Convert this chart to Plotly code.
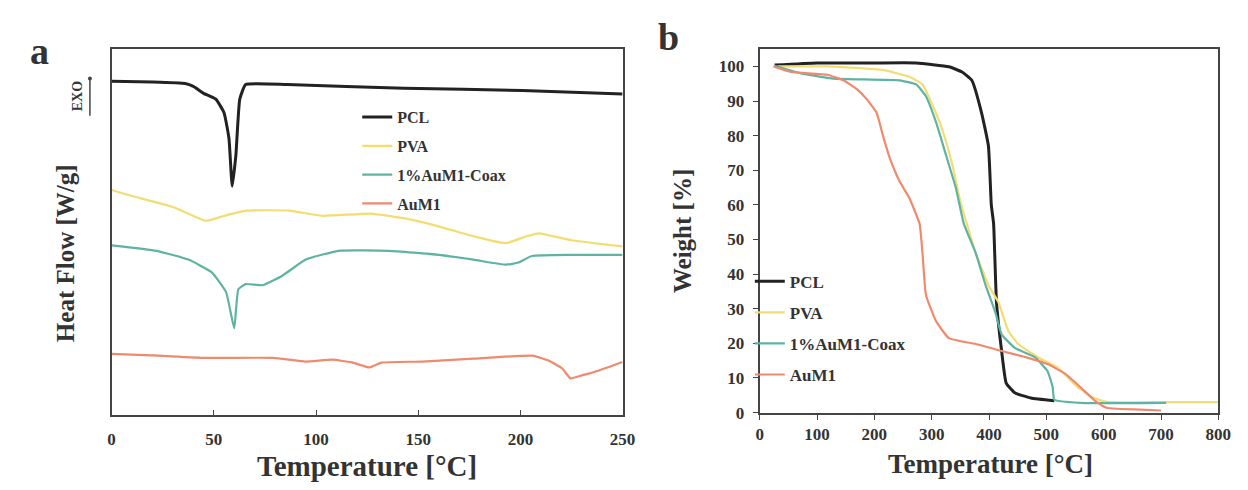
import plotly.graph_objects as go

# ---------------- DSC (panel a) ----------------
dsc_pcl_t = [0, 20, 36, 40, 45, 51, 55, 57.4, 59, 60.8, 62.7, 65.6, 86, 143, 201, 250]
dsc_pcl_v = [91.2, 91.0, 90.6, 89.8, 87.9, 86.3, 82.6, 75.6, 62.5, 71.0, 86.3, 90.3, 90.3, 89.3, 88.7, 87.7]

dsc_pva_t = [0, 2, 10, 30, 46, 54, 65.6, 87, 103, 127, 144, 160, 177, 193, 203, 209, 225, 250]
dsc_pva_v = [61.5, 61.1, 59.8, 56.8, 53.0, 54.2, 55.8, 55.8, 54.4, 55.0, 53.6, 51.5, 48.8, 46.9, 48.8, 49.6, 47.7, 46.0]

dsc_coax_t = [0, 22, 37.6, 49, 56, 60, 62, 65.6, 74, 83.5, 95, 111, 135.6, 160, 177, 193, 199, 205.6, 225, 250]
dsc_coax_v = [46.3, 44.8, 42.4, 38.9, 33.5, 23.6, 34.3, 35.7, 35.4, 38.0, 42.4, 44.8, 44.8, 43.7, 42.4, 41.0, 41.6, 43.4, 43.7, 43.7]

dsc_aum1_t = [0, 23, 46, 79, 95, 108, 118, 126, 132, 152, 177, 206, 214, 220.5, 224.5, 230, 238, 250]
dsc_aum1_v = [16.6, 16.1, 15.5, 15.5, 14.5, 15.0, 14.2, 12.9, 14.2, 14.5, 15.3, 16.1, 14.7, 12.6, 9.9, 10.7, 12.0, 14.4]

# ---------------- TGA (panel b) ----------------
tga_pcl_t = [26, 100, 200, 273, 330, 353, 370, 387, 399, 404, 408, 413, 422, 430, 445, 473, 514]
tga_pcl_w = [100.4, 101, 101, 101, 99.9, 98.4, 96.0, 86.6, 77.0, 60.0, 54.6, 32.0, 17.8, 8.5, 5.7, 4.2, 3.4]

tga_pva_t = [32, 118, 215, 261, 284, 301, 318, 336, 350, 377, 399, 416, 434, 451, 485, 520, 554, 583, 605, 700, 800]
tga_pva_w = [100, 100, 99, 97, 94.8, 89, 82, 71.6, 61, 46, 36.8, 32, 23.5, 19.8, 16, 13, 7.4, 4.2, 3.1, 3.0, 3.0]

tga_coax_t = [26, 72, 129, 244, 273, 290, 308, 325, 342, 356, 377, 394, 411, 422, 445, 480, 502, 511, 514, 559, 709]
tga_coax_w = [100.2, 98, 96.5, 96, 94.8, 91.4, 83.7, 74.4, 65, 54.6, 46, 36.8, 29, 22.6, 18.7, 16, 12, 7.4, 3.7, 2.8, 2.8]

tga_aum1_t = [24, 55, 118, 146, 170, 187, 204, 215, 227, 244, 261, 279, 284, 290, 308, 330, 377, 422, 468, 502, 532, 559, 583, 605, 674, 700]
tga_aum1_w = [100, 98.4, 97.6, 96, 93.4, 90.5, 86.6, 80, 73.5, 66.8, 62, 54.5, 46, 34, 26.3, 21.5, 19.8, 17.8, 15.8, 14, 11.3, 7.4, 3.7, 1.4, 0.8, 0.6]

series_names = ["PCL", "PVA", "1%AuM1-Coax", "AuM1"]
colors = ["#222222", "#f3dc72", "#5fb3a0", "#ee8a6e"]
widths = [3, 2.2, 2.2, 2.2]

x_ticks_a = [0, 50, 100, 150, 200, 250]
x_ticks_b = [0, 100, 200, 300, 400, 500, 600, 700, 800]
y_ticks_b = [0, 10, 20, 30, 40, 50, 60, 70, 80, 90, 100]

W, H = 1248, 490
FONT = "Liberation Serif"


def px(x):
    return x / W


def py(y):
    return 1 - y / H


fig = go.Figure()

dsc = [(dsc_pcl_t, dsc_pcl_v), (dsc_pva_t, dsc_pva_v), (dsc_coax_t, dsc_coax_v), (dsc_aum1_t, dsc_aum1_v)]
tga = [(tga_pcl_t, tga_pcl_w), (tga_pva_t, tga_pva_w), (tga_coax_t, tga_coax_w), (tga_aum1_t, tga_aum1_w)]

for i, (t, v) in enumerate(dsc):
    fig.add_trace(go.Scatter(x=t, y=v, mode="lines", name=series_names[i],
                             line=dict(color=colors[i], width=widths[i], shape="spline", smoothing=0.4),
                             xaxis="x", yaxis="y", legend="legend", legendgroup="a" + str(i)))
for i, (t, v) in enumerate(tga):
    fig.add_trace(go.Scatter(x=t, y=v, mode="lines", name=series_names[i],
                             line=dict(color=colors[i], width=widths[i], shape="spline", smoothing=0.4),
                             xaxis="x2", yaxis="y2", legend="legend2", legendgroup="b" + str(i)))

axis_common = dict(showline=True, linecolor="#444", linewidth=2, mirror=True, showgrid=False,
                   zeroline=False, tickfont=dict(family=FONT, size=17, color="#333", weight="bold"))

fig.update_layout(
    width=W, height=H, margin=dict(l=0, r=0, t=0, b=0),
    paper_bgcolor="white", plot_bgcolor="white",
    font=dict(family=FONT, color="#222"),
    xaxis=dict(domain=[px(101), px(619)], range=[0, 250], tickvals=x_ticks_a,
               ticks="inside", ticklen=5, tickcolor="#444", anchor="y", ticklabelstandoff=8,
               **axis_common),
    yaxis=dict(domain=[py(415), py(42)], range=[0, 100], showticklabels=False, ticks="",
               anchor="x", **axis_common),
    xaxis2=dict(domain=[px(758), px(1223)], range=[0, 800], tickvals=x_ticks_b,
                ticks="outside", ticklen=5, tickcolor="#444", anchor="y2", **axis_common),
    yaxis2=dict(domain=[py(413), py(42)], range=[0, 105], tickvals=y_ticks_b,
                ticks="outside", ticklen=5, tickcolor="#444", anchor="x2", ticklabelstandoff=5,
                **axis_common),
    legend=dict(x=px(350), y=py(94), xanchor="left", yanchor="top", bgcolor="rgba(0,0,0,0)",
                font=dict(family=FONT, size=16, color="#333", weight="bold"), tracegroupgap=5,
                itemwidth=30),
    legend2=dict(x=px(748), y=py(261), xanchor="left", yanchor="top", bgcolor="rgba(0,0,0,0)",
                 font=dict(family=FONT, size=17, color="#333", weight="bold"), tracegroupgap=6,
                 itemwidth=30),
)

ann = [
    dict(text="<b>a</b>", x=px(28), y=py(44), font=dict(size=38, family=FONT, color="#333")),
    dict(text="<b>b</b>", x=px(666), y=py(30), font=dict(size=38, family=FONT, color="#333")),
    dict(text="<b>Heat Flow [W/g]</b>", x=px(55), y=py(250), textangle=-90,
         font=dict(size=25, family=FONT, color="#333")),
    dict(text="<b>EXO</b>", x=px(66), y=py(90), textangle=-90,
         font=dict(size=14, family=FONT, color="#333")),
    dict(text="<b>Temperature [°C]</b>", x=px(360), y=py(468),
         font=dict(size=29, family=FONT, color="#333")),
    dict(text="<b>Weight [%]</b>", x=px(680), y=py(228), textangle=-90,
         font=dict(size=25, family=FONT, color="#333")),
    dict(text="<b>Temperature [°C]</b>", x=px(992), y=py(466),
         font=dict(size=27, family=FONT, color="#333")),
]
for a in ann:
    a.update(xref="paper", yref="paper", showarrow=False, xanchor="center", yanchor="middle")
    fig.add_annotation(**a)

fig.add_shape(type="line", xref="paper", yref="paper", x0=px(79), x1=px(79), y0=py(110), y1=py(72),
              line=dict(color="#444", width=1.5))
fig.add_shape(type="circle", xref="paper", yref="paper", x0=px(77), x1=px(81), y0=py(74), y1=py(70),
              fillcolor="#444", line=dict(color="#444", width=0))

fig.write_html("out.html")
